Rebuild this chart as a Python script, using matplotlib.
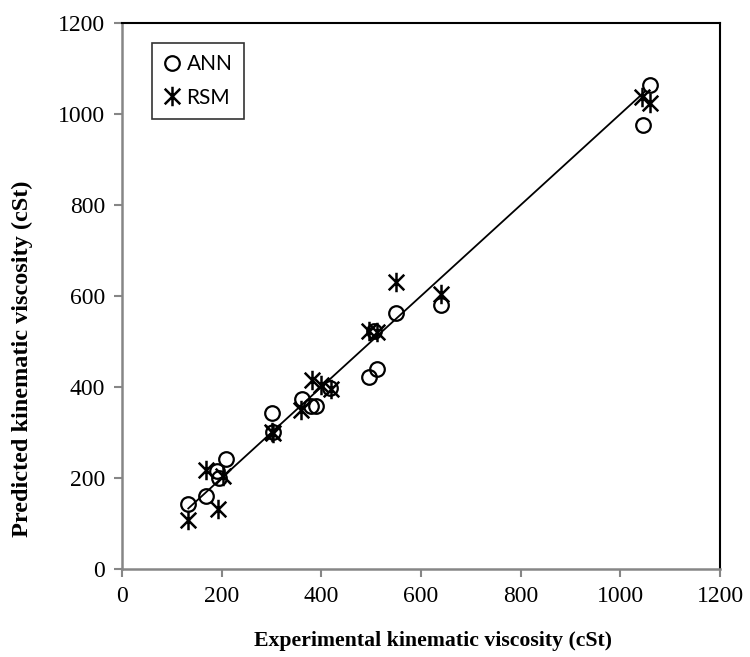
import matplotlib
matplotlib.use("Agg")
import matplotlib.pyplot as plt
import numpy as np
from matplotlib.path import Path

# data
ann_x = [133, 168, 190, 195, 208, 300, 303, 362, 380, 390, 418, 495, 505, 512, 550, 640, 1045, 1060]
ann_y = [143, 160, 215, 200, 242, 342, 300, 373, 358, 358, 397, 422, 522, 440, 563, 580, 976, 1063]
rsm_x = [133, 168, 193, 203, 300, 303, 360, 382, 400, 420, 495, 512, 550, 640, 1043, 1060]
rsm_y = [108, 218, 132, 205, 300, 298, 350, 415, 405, 395, 522, 520, 630, 604, 1037, 1025]
line_x = [133, 1050]

xticks = [0, 200, 400, 600, 800, 1000, 1200]
yticks = [0, 200, 400, 600, 800, 1000, 1200]

plt.rcParams['font.family'] = ['Liberation Serif', 'DejaVu Serif']

# excel-style star: vertical bar plus an X
star = Path([(0, -1), (0, 1), (-0.8, -0.8), (0.8, 0.8), (-0.8, 0.8), (0.8, -0.8)],
            [Path.MOVETO, Path.LINETO, Path.MOVETO, Path.LINETO, Path.MOVETO, Path.LINETO])

fig = plt.figure(figsize=(7.5, 6.57), dpi=100)
ax = fig.add_axes([0.1627, 0.134, 0.7973, 0.831])

ax.plot(line_x, line_x, 'k-', lw=1.3, zorder=1)
ax.plot(ann_x, ann_y, 'o', ls='none', mfc='none', mec='black', mew=1.6, ms=10.5, label='ANN', zorder=3)
ax.plot(rsm_x, rsm_y, marker=star, ls='none', color='black', mew=1.8, ms=14, label='RSM', zorder=2)

ax.set_xlim(0, 1200)
ax.set_ylim(0, 1200)
ax.set_xticks(xticks)
ax.set_yticks(yticks)
ax.tick_params(axis='both', labelsize=17, direction='out', length=6, width=1.5, color='#868686', pad=6)

for s in ['left', 'bottom']:
    ax.spines[s].set_color('#868686')
    ax.spines[s].set_linewidth(1.8)
for s in ['top', 'right']:
    ax.spines[s].set_color('black')
    ax.spines[s].set_linewidth(1.5)

ax.set_xlabel('Experimental kinematic viscosity (cSt)', fontsize=15.7, fontweight='bold')
ax.set_ylabel('Predicted kinematic viscosity (cSt)', fontsize=17.5, fontweight='bold')
ax.xaxis.set_label_coords(0.52, -0.113)
ax.yaxis.set_label_coords(-0.149, 0.385)

leg = ax.legend(loc='upper left', bbox_to_anchor=(0.033, 0.983), frameon=True, fancybox=False,
                edgecolor='black', handlelength=0.8, handletextpad=0.3, borderpad=0.55,
                labelspacing=0.65, prop={'family': 'Lato', 'size': 15})
leg.get_frame().set_linewidth(1.2)

plt.savefig('out.png', dpi=100)
